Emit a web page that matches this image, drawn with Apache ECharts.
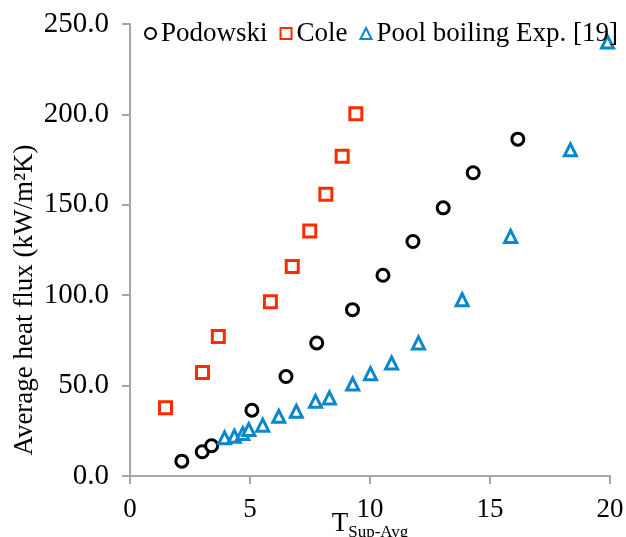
<!DOCTYPE html>
<html>
<head>
<meta charset="utf-8">
<script src="https://cdn.jsdelivr.net/npm/echarts@6/dist/echarts.min.js"></script>
<style>
  html, body { margin: 0; padding: 0; background: #fff; }
  #chart { width: 626px; height: 537px; }
</style>
</head>
<body>
<div id="chart"></div>
<script>
// Wall superheat (K) and average heat flux (kW/m2K) for each data set
const podowskiX = [2.16, 3.01, 3.40, 5.08, 6.50, 7.78, 9.27, 10.54, 11.79, 13.05, 14.30, 16.16];
const podowskiY = [8.2, 13.4, 16.7, 36.4, 55.0, 73.6, 92.0, 111.0, 129.7, 148.3, 167.7, 186.3];

const coleX = [1.48, 3.02, 3.68, 5.85, 6.76, 7.49, 8.16, 8.84, 9.41];
const coleY = [37.8, 57.2, 77.2, 96.4, 115.9, 135.5, 155.9, 176.9, 200.4];

const poolX = [3.94, 4.35, 4.70, 4.95, 5.53, 6.20, 6.93, 7.73, 8.31, 9.28, 10.02, 10.90, 12.02, 13.84, 15.86, 18.35, 19.90];
const poolY = [21.1, 22.0, 23.5, 25.7, 28.1, 33.0, 35.8, 41.3, 43.2, 50.9, 56.6, 62.5, 73.6, 97.5, 132.5, 180.4, 240.0];

const seriesNames = ['Podowski', 'Cole', 'Pool boiling Exp. [19]'];
const xTicks = [0, 5, 10, 15, 20];
const yTicks = [0, 50, 100, 150, 200, 250];

const FONT = '"Liberation Serif", "Times New Roman", serif';
const FONT_SIZE = 27;
const AXIS_GREY = '#a6a6a6';

const pairs = (xs, ys) => xs.map((x, i) => [x, ys[i]]);

const chart = echarts.init(document.getElementById('chart'), null, { renderer: 'canvas' });

const axisCommon = {
  type: 'value',
  axisLine: { show: true, lineStyle: { color: AXIS_GREY, width: 2 } },
  axisTick: { show: true, inside: false, length: 8, lineStyle: { color: AXIS_GREY, width: 2 } },
  splitLine: { show: false },
  axisLabel: { color: '#000', fontFamily: FONT, fontSize: FONT_SIZE, margin: 20 }
};

chart.setOption({
  animation: false,
  backgroundColor: '#fff',
  grid: { left: 130, right: 16, top: 24, bottom: 61, outerBoundsMode: 'none' },
  legend: {
    left: 139,
    top: 15,
    itemWidth: 11,
    itemHeight: 11,
    itemGap: 12,
    selectedMode: false,
    textStyle: { color: '#000', fontFamily: FONT, fontSize: FONT_SIZE },
    data: seriesNames
  },
  xAxis: Object.assign({}, axisCommon, {
    min: xTicks[0],
    max: xTicks[xTicks.length - 1],
    interval: xTicks[1] - xTicks[0],
    name: '{t|T}{s|Sup-Avg}',
    nameLocation: 'middle',
    nameGap: 34,
    nameMoveOverlap: false,
    nameTextStyle: {
      fontFamily: FONT,
      color: '#000',
      rich: {
        t: { fontFamily: FONT, fontSize: FONT_SIZE, color: '#000', verticalAlign: 'top', lineHeight: 27 },
        s: { fontFamily: FONT, fontSize: 17, color: '#000', verticalAlign: 'top', lineHeight: 17, padding: [14, 0, 0, 0] }
      }
    }
  }),
  yAxis: Object.assign({}, axisCommon, {
    min: yTicks[0],
    max: yTicks[yTicks.length - 1],
    interval: yTicks[1] - yTicks[0],
    axisLabel: Object.assign({}, axisCommon.axisLabel, {
      fontSize: 29,
      margin: 21,
      formatter: v => v.toFixed(1)
    }),
    name: 'Average heat flux (kW/m\u00B2K)',
    nameLocation: 'middle',
    nameGap: 92,
    nameRotate: 90,
    nameMoveOverlap: false,
    nameTextStyle: { fontFamily: FONT, fontSize: FONT_SIZE, color: '#000', padding: [0, 100, 0, 0] }
  }),
  series: [
    {
      name: seriesNames[0],
      type: 'scatter',
      symbol: 'circle',
      symbolSize: 12,
      itemStyle: { color: '#fff', borderColor: '#000', borderWidth: 3, opacity: 1 },
      data: pairs(podowskiX, podowskiY)
    },
    {
      name: seriesNames[1],
      type: 'scatter',
      symbol: 'rect',
      symbolSize: 12,
      itemStyle: { color: '#fff', borderColor: '#ff2a00', borderWidth: 3, opacity: 1 },
      data: pairs(coleX, coleY)
    },
    {
      name: seriesNames[2],
      type: 'scatter',
      symbol: 'triangle',
      symbolSize: 12,
      itemStyle: { color: '#fff', borderColor: '#0a86cc', borderWidth: 3, opacity: 1 },
      data: pairs(poolX, poolY)
    }
  ]
});
</script>
</body>
</html>
